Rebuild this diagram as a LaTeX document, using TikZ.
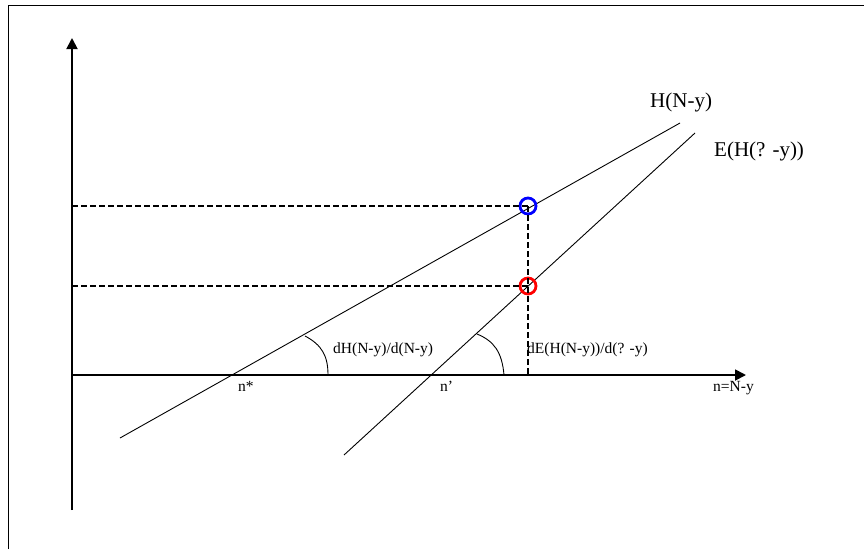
\documentclass[tikz,border=0pt]{standalone}
\usepackage{fontspec}
\setmainfont{Liberation Serif}
\usepackage{xcolor}
\usepackage{tikz}
\usetikzlibrary{arrows.meta, shapes, positioning}

\begin{document}
\begin{tikzpicture}[x=1pt, y=-1pt,
  axis/.style={line width=1.8pt, -{Triangle[length=11pt, width=11pt]}},
  curve/.style={line width=0.9pt},
  guide/.style={dashed, line width=1.6pt, dash pattern=on 6pt off 3pt},
  pointmark/.style={circle, draw, line width=2.8pt, minimum size=16pt, inner sep=0pt},
  biglabel/.style={anchor=base west, inner sep=0pt, font=\fontsize{21}{21}\selectfont},
  smalllabel/.style={anchor=base west, inner sep=0pt, font=\fontsize{15.5}{15.5}\selectfont}
]
\useasboundingbox (0,0) rectangle (864,549);
\draw[line width=1pt] (8,549) -- (8,5) -- (864,5);

\coordinate (origin) at (72,375);
\coordinate (ybot) at (72,510);
\coordinate (ytop) at (72,38);
\coordinate (xend) at (746,375);
\draw[axis] (ybot) -- (ytop);
\draw[axis] (origin) -- (xend);

\coordinate (hlo) at (120,438);
\coordinate (hhi) at (680,123);
\coordinate (elo) at (344,455);
\coordinate (ehi) at (695,133);
\draw[curve] (hlo) -- (hhi);
\draw[curve] (elo) -- (ehi);

\node[pointmark, draw=blue] (blue) at (528,206) {};
\node[pointmark, draw=red]  (red)  at (528,286) {};
\coordinate (yblue) at (72,206);
\coordinate (yred) at (72,286);
\coordinate (xfoot) at (528,375);
\draw[guide] (yblue) -- (blue.center);
\draw[guide] (yred) -- (red.center);
\draw[guide] (blue.center) -- (red.center) -- (xfoot);

\coordinate (harc) at (305,336);
\coordinate (harcend) at (328,375);
\coordinate (earc) at (477,334);
\coordinate (earcend) at (504,375);
\draw[curve] (harc) .. controls (322,345) and (328,356) .. (harcend);
\draw[curve] (earc) .. controls (494,341) and (502,352) .. (earcend);

\node[biglabel] (hlab) at (650,107) {H(N-y)};
\node[biglabel] (elab) at (714,156) {E(H(? -y))};
\node[smalllabel] (dhlab) at (333,353) {dH(N-y)/d(N-y)};
\node[smalllabel] (delab) at (527,353) {dE(H(N-y))/d(? -y)};
\node[smalllabel] (nstar) at (238,391) {n*};
\node[smalllabel] (nprime) at (440,391) {n’};
\node[smalllabel] (nlab) at (713,391) {n=N-y};
\end{tikzpicture}
\end{document}
